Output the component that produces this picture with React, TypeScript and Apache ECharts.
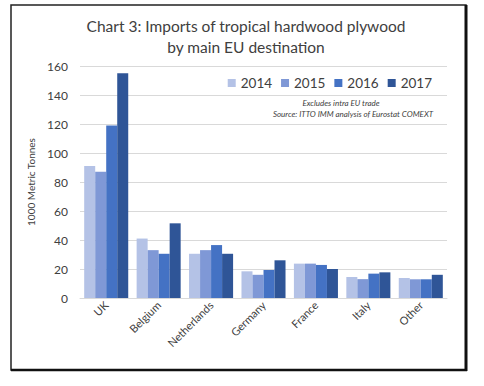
import React, { useEffect, useRef } from "react";
import * as echarts from "echarts";

const categories = ["UK", "Belgium", "Netherlands", "Germany", "France", "Italy", "Other"];
const years = ["2014", "2015", "2016", "2017"];
const v2014 = [91, 41, 30.5, 18.4, 23.7, 14.5, 13.8];
const v2015 = [87, 33, 33, 16, 23.7, 13, 12.9];
const v2016 = [119, 30.5, 36.5, 19.3, 22.8, 16.8, 12.9];
const v2017 = [155, 51.5, 30.5, 26, 20, 17.7, 16];
const colors = ["#B4C2E6", "#7F98D6", "#4472C4", "#2F5597"];

export default function App() {
  const ref = useRef<HTMLDivElement>(null);
  useEffect(() => {
    const chart = echarts.init(ref.current!, undefined, { renderer: "svg" });
    const font = "Lato, 'Open Sans', sans-serif";
    const seriesData = [v2014, v2015, v2016, v2017];
    chart.setOption({
      animation: false,
      backgroundColor: "#ffffff",
      textStyle: { fontFamily: font },
      title: {
        text: "Chart 3: Imports of tropical hardwood plywood\nby main EU destination",
        left: 241,
        textAlign: "center",
        top: 10,
        textStyle: { fontFamily: font, fontSize: 15.5, fontWeight: "normal", color: "#404040", lineHeight: 21 },
      },
      legend: {
        data: years,
        right: 47,
        top: 71,
        itemWidth: 8,
        itemHeight: 8,
        itemGap: 9,
        icon: "rect",
        textStyle: { fontFamily: font, fontSize: 13.5, color: "#404040" },
      },
      grid: { left: 80, right: 37, top: 66, bottom: 88 },
      xAxis: {
        type: "category",
        data: categories,
        axisLine: { show: true, lineStyle: { color: "#d9d9d9" } },
        axisTick: { show: false },
        axisLabel: { rotate: 45, fontSize: 11, color: "#404040", fontFamily: font, margin: 5 },
      },
      yAxis: {
        type: "value",
        min: 0,
        max: 160,
        interval: 20,
        name: "1000 Metric Tonnes",
        nameLocation: "middle",
        nameGap: 43,
        nameTextStyle: { fontSize: 10, color: "#404040", fontFamily: font },
        axisLine: { show: false },
        axisTick: { show: false },
        splitLine: { lineStyle: { color: "#d9d9d9" } },
        axisLabel: { fontSize: 12, color: "#404040", fontFamily: font, margin: 12 },
      },
      series: years.map((y, i) => ({
        name: y,
        type: "bar",
        data: seriesData[i],
        barGap: "0%",
        barCategoryGap: "16%",
        itemStyle: { color: colors[i] },
      })),
      graphic: [
        {
          type: "rect",
          shape: { x: 11, y: 5, width: 455, height: 365 },
          style: { fill: "none", stroke: "#222", lineWidth: 1.5 },
          silent: true,
        },
        {
          type: "line",
          shape: { x1: 466, y1: 5, x2: 466, y2: 371 },
          style: { stroke: "#111", lineWidth: 3 },
          silent: true,
        },
        {
          type: "line",
          shape: { x1: 11, y1: 370, x2: 467, y2: 370 },
          style: { stroke: "#111", lineWidth: 2.5 },
          silent: true,
        },
        {
          type: "text",
          x: 341,
          y: 99,
          style: {
            text: "Excludes intra EU trade",
            fontSize: 8,
            fontStyle: "italic",
            fontFamily: font,
            fill: "#404040",
            textAlign: "center",
          },
        },
        {
          type: "text",
          x: 353,
          y: 110,
          style: {
            text: "Source: ITTO IMM analysis of Eurostat COMEXT",
            fontSize: 8,
            fontStyle: "italic",
            fontFamily: font,
            fill: "#404040",
            textAlign: "center",
          },
        },
      ],
    });
    return () => chart.dispose();
  }, []);
  return <div ref={ref} style={{ position: "fixed", left: 0, top: 0, width: 484, height: 386 }} />;
}
